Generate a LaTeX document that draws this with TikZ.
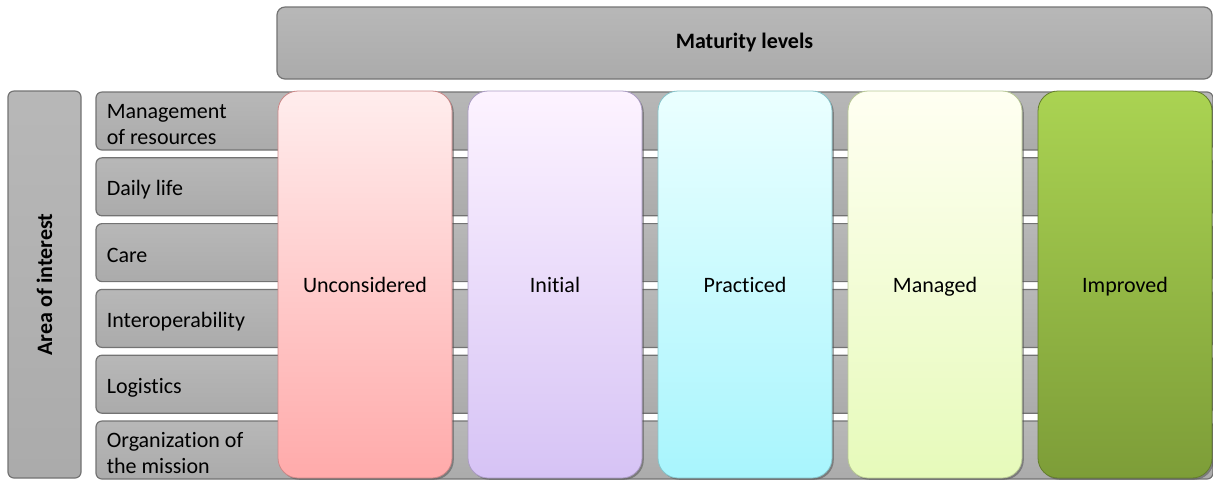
\documentclass[tikz,border=0pt]{standalone}
\usepackage{fontspec}
\setmainfont{Carlito}[Ligatures=NoCommon]
\usetikzlibrary{shadows}

\definecolor{unconsTop}{HTML}{FFEDED}
\definecolor{unconsBot}{HTML}{FFAAAA}
\definecolor{initTop}{HTML}{FDF3FF}
\definecolor{initBot}{HTML}{D6C3F5}
\definecolor{practTop}{HTML}{EBFFFF}
\definecolor{practBot}{HTML}{A8F5FD}
\definecolor{managTop}{HTML}{FFFFF2}
\definecolor{managBot}{HTML}{E6FABA}
\definecolor{improvTop}{HTML}{AAD352}
\definecolor{improvBot}{HTML}{7D9D38}

\begin{document}
\begin{tikzpicture}[x=0.5pt, y=-0.5pt,
                    every node/.style={font=\fontsize{11}{13}\selectfont},
                    graybar/.style={rounded corners=3pt, top color=black!28,
                                    bottom color=black!33, draw=black!55,
                                    line width=0.6pt, inner sep=0pt},
                    rowbar/.style={graybar, minimum height=29pt,
                                   minimum width=558.5pt},
                    rowlabel/.style={anchor=west, align=left, inner sep=0pt},
                    levelbox/.style={rounded corners=10pt, minimum width=87pt,
                                     minimum height=193.5pt, inner sep=0pt,
                                     text height=8pt, text depth=0pt,
                                     line width=0.4pt,
                                     drop shadow={shadow xshift=0.9pt,
                                                  shadow yshift=-0.9pt,
                                                  fill=black!70, opacity=0.5}}]

  \useasboundingbox (0,0) rectangle (1213,479);

  % Headers
  \node [graybar, rounded corners=4pt, minimum width=467.5pt,
         minimum height=36pt, font=\fontsize{11}{13}\selectfont\bfseries]
        (maturity) at (744.5,43) {Maturity levels};
  \node [graybar, rotate=90, minimum width=193.5pt, minimum height=36.5pt,
         font=\fontsize{11}{13}\selectfont\bfseries]
        (area) at (44.5,284.5) {Area of interest};

  % Areas of interest, one bar per row
  \foreach \row/\name in {1/Management\\of resources, 2/Daily life, 3/Care,
                          4/Interoperability, 5/Logistics,
                          6/Organization of\\the mission} {
    \node [rowbar] (area \row) at (654.5,{121+65.8*(\row-1)}) {};
    \node [rowlabel] (label \row)
          at ([xshift=5.5pt, yshift=-1.6pt]area \row.west) {\name};
  }

  % Maturity levels on top of the rows
  \foreach \col/\lvl/\ctop/\cbot in {1/Unconsidered/unconsTop/unconsBot,
                                     2/Initial/initTop/initBot,
                                     3/Practiced/practTop/practBot,
                                     4/Managed/managTop/managBot,
                                     5/Improved/improvTop/improvBot} {
    \node [levelbox, top color=\ctop, bottom color=\cbot, draw=\cbot!80!black]
          (level \col) at ({365+190*(\col-1)},284.5) {\lvl};
  }

\end{tikzpicture}
\end{document}
